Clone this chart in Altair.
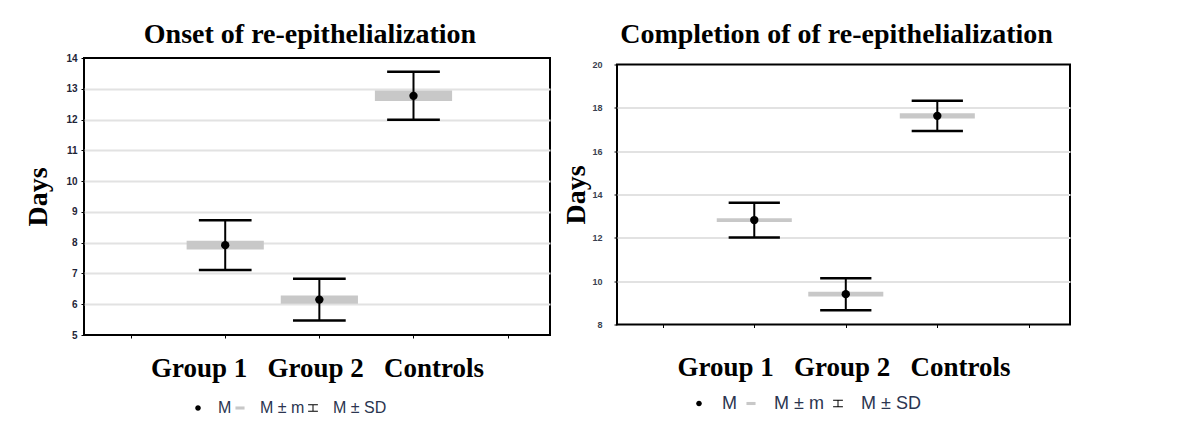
import altair as alt
import pandas as pd

# ---- data ----
groups = ["Group 1", "Group 2", "Controls"]
group_pos = [1, 2, 3]

onset_mean = [7.92, 6.15, 12.77]
onset_se = [0.145, 0.135, 0.17]
onset_sd = [0.81, 0.68, 0.78]

compl_mean = [12.82, 9.40, 17.63]
compl_se = [0.085, 0.11, 0.125]
compl_sd = [0.80, 0.74, 0.70]

legend_items = ["M", "M \u00b1 m", "M \u00b1 SD"]
legend_colors = ["#000000", "#c8c8c8", "#000000"]
legend_shapes = [
    "M0.4,0A0.4,0.4,0,1,1,-0.4,0A0.4,0.4,0,1,1,0.4,0Z",
    "M-0.65,-0.22H0.65V0.22H-0.65Z",
    "M-0.7,-0.55H0.7V-0.41H0.07V0.41H0.7V0.55H-0.7V0.41H-0.07V-0.41H-0.7Z",
]

x_title = "Group 1\u00a0\u00a0\u00a0Group 2\u00a0\u00a0\u00a0Controls"

SERIF = "Liberation Serif"
SANS = "Liberation Sans"


def panel(title, means, ses, sds, ymin, ymax, ystep, w, h,
          title_offset, xtitle_pad, ytitle_pad, label_pad, label_size,
          label_color, leg_x, leg_y, leg_font, leg_offset, leg_pad,
          leg_box_pad):
    df = pd.DataFrame({"group": groups, "pos": group_pos,
                       "mean": means, "se": ses, "sd": sds})
    base = alt.Chart(df).transform_calculate(
        lo_se="datum.mean - datum.se", hi_se="datum.mean + datum.se",
        lo_sd="datum.mean - datum.sd", hi_sd="datum.mean + datum.sd",
        box_l="datum.pos - 0.41", box_r="datum.pos + 0.41",
        cap_l="datum.pos - 0.28", cap_r="datum.pos + 0.28",
    )
    xscale = alt.Scale(domain=[-0.5, 4.45], nice=False, zero=False)
    yscale = alt.Scale(domain=[ymin, ymax], nice=False, zero=False)

    x_axis = alt.Axis(values=[0, 1, 2, 3, 4], labels=False, ticks=True,
                      tickSize=3, tickColor="#000000", grid=False,
                      domain=False, title=x_title, titleFont=SERIF,
                      titleFontSize=27, titleFontWeight="bold",
                      titleColor="#000000", titlePadding=xtitle_pad)
    y_axis = alt.Axis(values=list(range(ymin, ymax + 1, ystep)), grid=True,
                      gridColor="#e2e2e2", gridWidth=2,
                      gridOpacity=alt.condition(
                          f"datum.value <= {ymin} || datum.value >= {ymax}",
                          alt.value(0), alt.value(1)),
                      domain=False, labelOverlap=False, labelSeparation=0,
                      labelBound=False,
                      tickSize=3, tickColor="#000000", labelFont=SANS,
                      labelFontSize=label_size, labelFontWeight="bold",
                      labelColor=label_color, labelPadding=label_pad,
                      title="Days", titleFont=SERIF, titleFontSize=28,
                      titleFontWeight="bold", titleColor="#000000",
                      titlePadding=ytitle_pad)

    def xy(xf, yf):
        return dict(x=alt.X(xf, scale=xscale, axis=x_axis),
                    y=alt.Y(yf, scale=yscale, axis=y_axis))

    box = base.mark_rect(color="#c8c8c8").encode(
        **xy("box_l:Q", "lo_se:Q"), x2="box_r:Q", y2="hi_se:Q")
    stem = base.mark_rule(color="#000000", strokeWidth=2).encode(
        **xy("pos:Q", "lo_sd:Q"), y2="hi_sd:Q")
    cap_hi = base.mark_rule(color="#000000", strokeWidth=2.5).encode(
        **xy("cap_l:Q", "hi_sd:Q"), x2="cap_r:Q")
    cap_lo = base.mark_rule(color="#000000", strokeWidth=2.5).encode(
        **xy("cap_l:Q", "lo_sd:Q"), x2="cap_r:Q")
    dot = base.mark_point(filled=True, color="#000000", size=70,
                          opacity=1, shape="circle").encode(
        **xy("pos:Q", "mean:Q"))

    leg = alt.Legend(orient="none", legendX=leg_x, legendY=leg_y,
                     direction="horizontal", title=None, padding=leg_box_pad,
                     labelFont=SANS, labelFontSize=leg_font,
                     labelColor="#2b3550",
                     symbolSize=196, symbolOpacity=1, symbolStrokeWidth=0,
                     labelOffset=leg_offset, columnPadding=leg_pad)
    ldf = pd.DataFrame({"item": legend_items})
    legend_layer = alt.Chart(ldf).mark_point(filled=True, opacity=0).encode(
        shape=alt.Shape("item:N", scale=alt.Scale(domain=legend_items,
                                                  range=legend_shapes),
                        legend=leg),
        color=alt.Color("item:N", scale=alt.Scale(domain=legend_items,
                                                  range=legend_colors),
                        legend=leg),
    )

    return alt.layer(box, stem, cap_hi, cap_lo, dot, legend_layer).properties(
        width=w, height=h,
        title=alt.TitleParams(title, font=SERIF, fontSize=28,
                              fontWeight="bold", color="#000000",
                              offset=title_offset, dx=-7, anchor="middle"),
    )


left = panel("Onset of re-epithelialization", onset_mean, onset_se, onset_sd,
             5, 14, 1, 466, 277, 4, 17, 13, 4, 10, "#1f2538",
             103, 339, 16, 12, 0, 3)
right = panel("Completion of of re-epithelialization", compl_mean, compl_se,
              compl_sd, 8, 20, 2, 453, 260, 12, 26, 1, 12, 9, "#3a3f50",
              73, 330, 18, 14, 5, 0)

chart = alt.hconcat(left, right, spacing=10, center=True).resolve_scale(
    color="independent", shape="independent"
).properties(
    padding={"left": 15, "top": 11, "right": 5, "bottom": 5},
    background="#ffffff",
).configure_view(stroke="#000000", strokeWidth=2)

chart.save("out.html", embed_options={"renderer": "svg", "actions": False})
